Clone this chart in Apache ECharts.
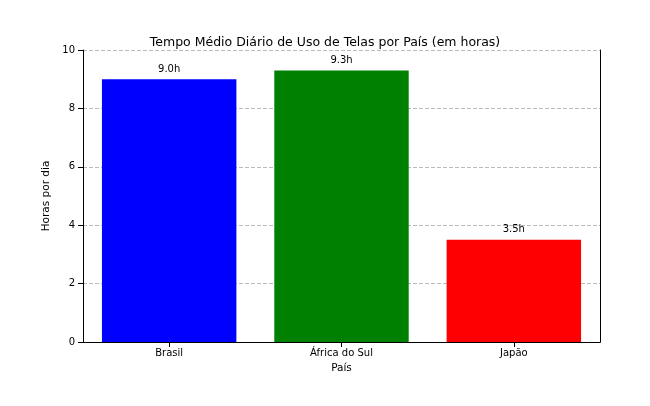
<!DOCTYPE html>
<html>
<head>
<meta charset="utf-8">
<script src="https://cdn.jsdelivr.net/npm/echarts@6/dist/echarts.min.js"></script>
<style>html,body{margin:0;padding:0;background:#fff}#main{width:650px;height:406px}</style>
</head>
<body>
<div id="main"></div>
<script>
var paises = ['Brasil', 'África do Sul', 'Japão'];
var horas = [9.0, 9.3, 3.5];
var cores = ['#0000ff', '#008000', '#ff0000'];

var chart = echarts.init(document.getElementById('main'));
var axisLine = { show: true, lineStyle: { color: '#000', width: 1 } };
chart.setOption({
    backgroundColor: '#fff',
    textStyle: { fontFamily: 'DejaVu Sans', color: '#000' },
    title: {
        text: 'Tempo Médio Diário de Uso de Telas por País (em horas)',
        left: 'center', top: 31,
        textStyle: { fontSize: 12.5, fontWeight: 'normal', color: '#000', fontFamily: 'DejaVu Sans' }
    },
    grid: { left: 83, right: 50, top: 50, bottom: 64 },
    xAxis: [{
        type: 'category',
        data: paises,
        name: 'País', nameLocation: 'middle', nameGap: 20,
        nameTextStyle: { fontSize: 10.5, color: '#000' },
        axisLine: axisLine,
        axisTick: { show: true, alignWithLabel: true, lineStyle: { color: '#000' } },
        axisLabel: { fontSize: 10, color: '#000', margin: 6 }
    }, {
        type: 'category', position: 'top', data: paises,
        axisLine: axisLine, axisTick: { show: false }, axisLabel: { show: false }
    }],
    yAxis: [{
        type: 'value', min: 0, max: 10, interval: 2,
        name: 'Horas por dia', nameLocation: 'middle', nameGap: 30,
        nameTextStyle: { fontSize: 10.5, color: '#000' },
        axisLine: axisLine,
        axisTick: { show: true, lineStyle: { color: '#000' } },
        axisLabel: { fontSize: 10, color: '#000' },
        splitLine: { show: true, lineStyle: { color: '#bbb', type: 'dashed' } }
    }, {
        type: 'value', position: 'right', min: 0, max: 10, interval: 2,
        axisLine: axisLine, axisTick: { show: false }, axisLabel: { show: false }, splitLine: { show: false }
    }],
    series: [{
        type: 'bar',
        barCategoryGap: '22%',
        data: horas.map(function (v, i) { return { value: v, itemStyle: { color: cores[i] } }; }),
        label: {
            show: true, position: 'top', distance: 5, fontSize: 10, color: '#000',
            formatter: function (p) { return p.value.toFixed(1) + 'h'; }
        }
    }]
});
</script>
</body>
</html>
